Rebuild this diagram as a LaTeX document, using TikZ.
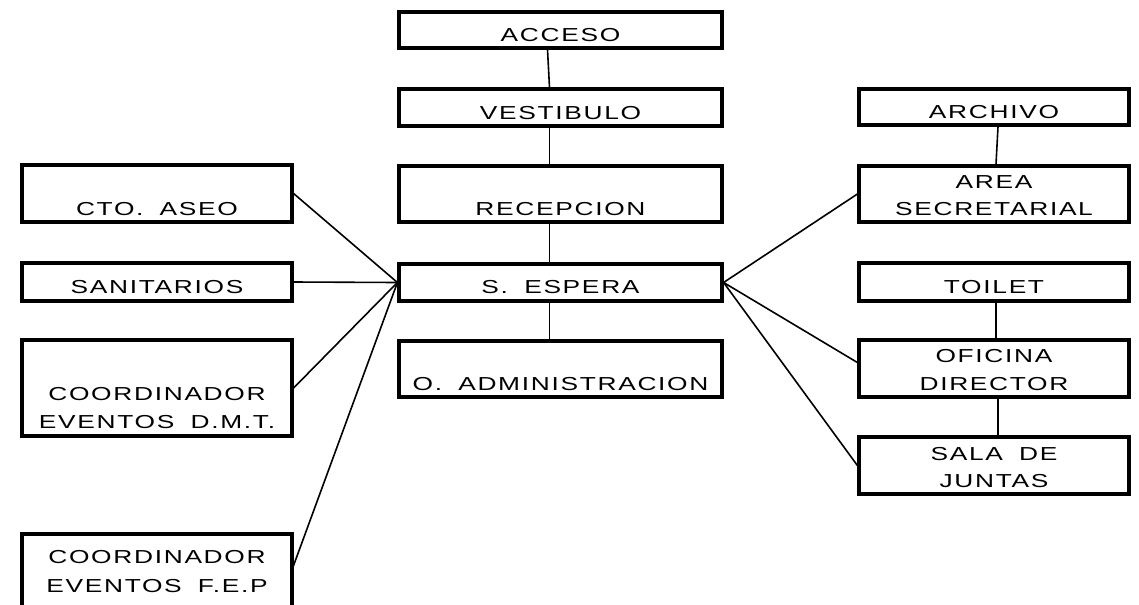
\documentclass[tikz,border=0pt]{standalone}
\usepackage{fontspec}
\setmainfont{Liberation Sans}[FakeStretch=1.4,LetterSpace=9,WordSpace=1.8]
\usetikzlibrary{fit,calc}
\tikzset{
  box/.style={draw=black, line width=2.4pt, fill=white, rectangle, inner sep=0pt},
  txt/.style={anchor=base, inner sep=0pt, font=\fontsize{14.1pt}{16pt}\selectfont},
  link/.style={draw=black, line width=1.2pt}
}
\begin{document}
\begin{tikzpicture}[x=0.75pt,y=-0.75pt]
\useasboundingbox (0,0) rectangle (1139,604);
\fill[white] (0,0) rectangle (1139,604);
\clip (0,0) rectangle (1139,604);
% boxes
\node[box, fit={(399,12)(722,48)}] (acc) {};
\node[box, fit={(399,89)(722,126)}] (ves) {};
\node[box, fit={(399,166)(722,222)}] (rec) {};
\node[box, fit={(399,264)(722,301)}] (esp) {};
\node[box, fit={(399,341)(722,397)}] (adm) {};
\node[box, fit={(22,165)(292,222)}] (cto) {};
\node[box, fit={(22,263)(292,301)}] (san) {};
\node[box, fit={(22,340)(292,436)}] (dmt) {};
\node[box, fit={(22,534)(292,640)}] (fep) {};
\node[box, fit={(859,89)(1129,125)}] (arc) {};
\node[box, fit={(859,166)(1129,222)}] (are) {};
\node[box, fit={(859,263)(1129,301)}] (toi) {};
\node[box, fit={(859,340)(1129,397)}] (ofi) {};
\node[box, fit={(859,437)(1129,494)}] (sal) {};
\coordinate (fepin) at (293,567);
% connectors
\draw[link] ($(acc.south)+(-13,0)$) -- ($(ves.north)+(-11,0)$);
\draw[link] ($(ves.south)+(-11,0)$) -- ($(rec.north)+(-11,0)$);
\draw[link] ($(rec.south)+(-11,0)$) -- ($(esp.north)+(-11,0)$);
\draw[link] ($(esp.south)+(-11,0)$) -- ($(adm.north)+(-11,0)$);
\draw[link] ($(arc.south)+(4,0)$) -- ($(are.north)+(2,0)$);
\draw[link] ($(toi.south)+(2,0)$) -- ($(ofi.north)+(2,0)$);
\draw[link] ($(ofi.south)+(4,0)$) -- ($(sal.north)+(4,0)$);
\draw[link] (esp.west) -- (cto.east);
\draw[link] (esp.west) -- (san.east);
\draw[link] (esp.west) -- (dmt.east);
\draw[link] (esp.west) -- (fepin);
\draw[link] (esp.east) -- (are.west);
\draw[link] (esp.east) -- ($(ofi.west)+(0,-6)$);
\draw[link] (esp.east) -- (sal.west);
% texts
\node[txt] (tacc) at (560.5,41) {ACCESO};
\node[txt] (tves) at (560.5,119) {VESTIBULO};
\node[txt] (trec) at (560.5,215) {RECEPCION};
\node[txt] (tesp) at (560.5,293) {S. ESPERA};
\node[txt] (tadm) at (560.5,390) {O. ADMINISTRACION};
\node[txt] (tcto) at (157,215) {CTO. ASEO};
\node[txt] (tsan) at (157,293) {SANITARIOS};
\node[txt] (tdmta) at (157,400) {COORDINADOR};
\node[txt] (tdmtb) at (157,428) {EVENTOS D.M.T.};
\node[txt] (tfepa) at (157,563) {COORDINADOR};
\node[txt] (tfepb) at (157,592) {EVENTOS F.E.P};
\node[txt] (tarc) at (994,118) {ARCHIVO};
\node[txt] (tarea) at (994,188) {AREA};
\node[txt] (tareb) at (994,215) {SECRETARIAL};
\node[txt] (ttoi) at (994,293) {TOILET};
\node[txt] (tofia) at (994,362) {OFICINA};
\node[txt] (tofib) at (994,390) {DIRECTOR};
\node[txt] (tsala) at (994,460) {SALA DE};
\node[txt] (tsalb) at (994,487) {JUNTAS};
\end{tikzpicture}
\end{document}
